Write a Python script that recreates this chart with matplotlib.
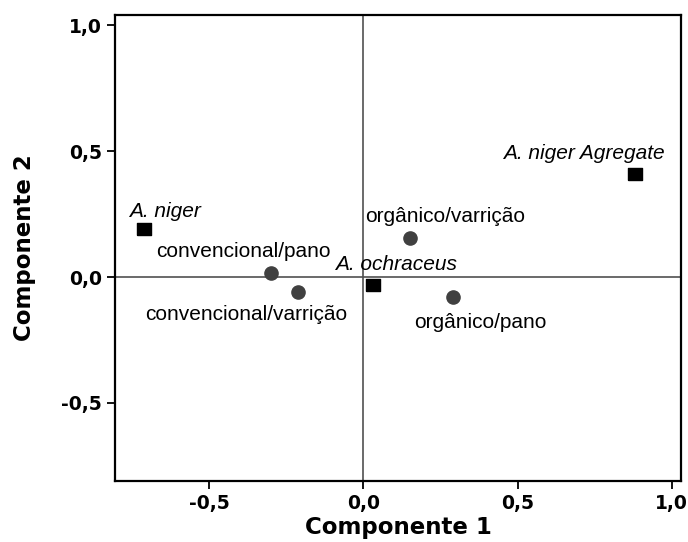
import matplotlib.pyplot as plt

# species (squares) and treatments (circles)
especies = ["A. niger", "A. niger Agregate", "A. ochraceus"]
esp_x = [-0.71, 0.88, 0.03]
esp_y = [0.19, 0.41, -0.03]

tratamentos = ["convencional/pano", "convencional/varrição",
               "orgânico/varrição", "orgânico/pano"]
trat_x = [-0.30, -0.21, 0.15, 0.29]
trat_y = [0.015, -0.06, 0.155, -0.08]

xticks = [-0.5, 0.0, 0.5, 1.0]
yticks = [-0.5, 0.0, 0.5, 1.0]

# label offsets in pixels from each point
esp_off = [(21, 18), (-51, 20), (23, 20)]
trat_off = [(-27, 22), (-52, -22), (36, 22), (28, -25)]


def fmt(v):
    return f"{v:.1f}".replace(".", ",")


def main():
    fig = plt.figure(figsize=(6.88, 5.42), dpi=100)
    ax = fig.add_axes([0.167, 0.1125, 0.823, 0.8595])

    ax.axhline(0, color="#505050", lw=1.2, zorder=1)
    ax.axvline(0, color="#505050", lw=1.2, zorder=1)

    rect = [(-1.3, -1), (1.3, -1), (1.3, 1), (-1.3, 1), (-1.3, -1)]
    ax.plot(esp_x, esp_y, ls="none", marker=rect, ms=10.5, color="black", zorder=3)
    ax.plot(trat_x, trat_y, ls="none", marker="o", ms=9.5, color="#404040", zorder=3)

    for name, x, y, off in zip(especies, esp_x, esp_y, esp_off):
        ax.annotate(name, (x, y), xytext=off, textcoords="offset pixels",
                    ha="center", va="center", fontsize=15, style="italic",
                    family="Liberation Sans")
    for name, x, y, off in zip(tratamentos, trat_x, trat_y, trat_off):
        ax.annotate(name, (x, y), xytext=off, textcoords="offset pixels",
                    ha="center", va="center", fontsize=15,
                    family="Liberation Sans")

    ax.set_xlim(-0.805, 1.03)
    ax.set_ylim(-0.81, 1.04)
    ax.set_xticks(xticks)
    ax.set_xticklabels([fmt(v) for v in xticks], fontweight="bold")
    ax.set_yticks(yticks)
    ax.set_yticklabels([fmt(v) for v in yticks], fontweight="bold")
    ax.tick_params(direction="out", length=6, width=1.3, labelsize=13.5, colors="black")

    for s in ax.spines.values():
        s.set_linewidth(1.6)

    ax.set_xlabel("Componente 1", fontsize=16.5, fontweight="bold", labelpad=2)
    ax.set_ylabel("Componente 2", fontsize=16.5, fontweight="bold", labelpad=18)

    fig.savefig("out.png", dpi=100)


if __name__ == "__main__":
    main()
